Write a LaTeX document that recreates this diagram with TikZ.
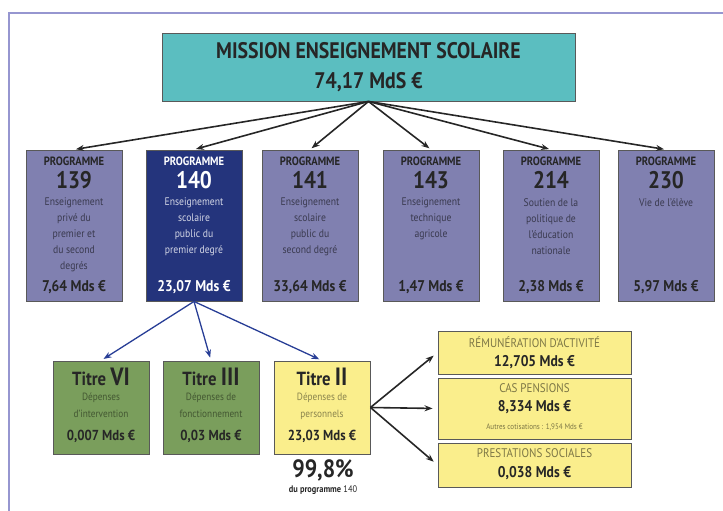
\documentclass[tikz,border=0pt]{standalone}
\usepackage{fontspec}
\setmainfont{PT Sans}[FakeStretch=0.88]
\usetikzlibrary{calc,arrows.meta}
\definecolor{cadre}{RGB}{150,150,208}
\definecolor{missionfond}{RGB}{91,190,192}
\definecolor{progfond}{RGB}{128,128,176}
\definecolor{progbleu}{RGB}{36,52,124}
\definecolor{titrevert}{RGB}{122,158,92}
\definecolor{titrejaune}{RGB}{250,238,140}
\definecolor{flechebleu}{RGB}{40,62,150}
\tikzset{
  boite/.style={draw=black!65, line width=0.9pt, inner sep=0pt},
  fleche/.style={-{Stealth[length=8pt,width=6pt]}, line width=1.6pt, black!85},
  flechebl/.style={fleche, flechebleu},
}

\begin{document}
\begin{tikzpicture}[x=1pt,y=-1pt]
\useasboundingbox (0,0) rectangle (723,511);
\draw[cadre,line width=2pt] (723,13) -- (9,13) -- (9,511);

% mission
\node[boite, fill=missionfond, minimum width=413pt, minimum height=68pt,
      align=center, font=\fontsize{22.5}{30}\selectfont\bfseries, text=black!85]
      (mission) at (368.5,67) {MISSION ENSEIGNEMENT SCOLAIRE\\74,17 MdS €};

% programmes
\foreach \n/\x/\fond/\tc/\dc/\desc/\mds in {
  139/74/progfond/black!85/black!55!progfond/{Enseignement\\privé du\\premier et\\du second\\degrés}/{7,64},
  140/194/progbleu/white/white!80!progbleu/{Enseignement\\scolaire\\public du\\premier degré}/{23,07},
  141/310/progfond/black!85/black!55!progfond/{Enseignement\\scolaire\\public du\\second degré}/{33,64},
  143/431/progfond/black!85/black!55!progfond/{Enseignement\\technique\\agricole}/{1,47},
  214/551/progfond/black!85/black!55!progfond/{Soutien de la\\politique de\\l'éducation\\nationale}/{2,38},
  230/666/progfond/black!85/black!55!progfond/{Vie de l'élève}/{5,97}}{
  \node[boite, fill=\fond, minimum width=96pt, minimum height=151pt] (p\n) at (\x,225.5) {};
  \node[text=\tc, font=\fontsize{12}{12}\selectfont\bfseries] (p\n-a) at (\x,161) {PROGRAMME};
  \node[text=\tc, font=\fontsize{24}{24}\selectfont\bfseries] (p\n-b) at (\x,180) {\n};
  \node[text=\dc, font=\fontsize{11}{16}\selectfont, align=center, anchor=north, inner sep=0pt]
       (p\n-c) at (\x,198) {\desc};
  \node[text=\tc, font=\fontsize{15.5}{15.5}\selectfont\bfseries] (p\n-d) at (\x,287) {\mds{} Mds €};
  \draw[fleche, shorten >=2pt] (mission.south) -- (p\n.north);
}

% titres
\foreach \t/\x/\fond/\num/\desc/\mds in {
  6/101/titrevert/VI/{Dépenses\\d'intervention}/{0,007},
  3/211/titrevert/III/{Dépenses de\\fonctionnement}/{0,03},
  2/322/titrejaune/II/{Dépenses de\\personnels}/{23,03}}{
  \node[boite, fill=\fond, minimum width=96pt, minimum height=93pt] (t\t) at (\x,407.5) {};
  \node[text=black!85, font=\bfseries] (t\t-a) at (\x,377)
       {\fontsize{19}{19}\selectfont Titre \fontsize{25}{25}\selectfont\num};
  \node[text=black!45!\fond, font=\fontsize{10.5}{17}\selectfont, align=center, anchor=north, inner sep=0pt]
       (t\t-b) at (\x,393) {\desc};
  \node[text=black!85, font=\fontsize{14.5}{14.5}\selectfont\bfseries] (t\t-c) at (\x,436) {\mds{} Mds €};
  \draw[flechebl, line width=1.3pt, shorten >=3pt] (p140.south) -- (t\t.north);
}
\node[text=black!85, font=\fontsize{25}{25}\selectfont\bfseries] (pct) at (323,470) {99,8\%};
\node[text=black!85, font=\fontsize{9.5}{9.5}\selectfont] (pct-b) at (323,490) {\textbf{du programme} 140};

% titre II en detail
\tikzset{detail/.style={boite, fill=titrejaune, minimum width=193pt}}
\node[detail, minimum height=43pt] (r1) at (534.5,352.5) {};
\node[detail, minimum height=61pt] (r2) at (534.5,408.5) {};
\node[detail, minimum height=44pt] (r3) at (534.5,465) {};
\node[text=black!50!titrejaune, font=\fontsize{12.5}{12.5}\selectfont] (r1-a) at (534.5,342) {RÉMUNÉRATION D'ACTIVITÉ};
\node[text=black!85, font=\fontsize{15.5}{15.5}\selectfont\bfseries] (r1-b) at (534.5,362) {12,705 Mds €};
\node[text=black!50!titrejaune, font=\fontsize{12.5}{12.5}\selectfont] (r2-a) at (534.5,388) {CAS PENSIONS};
\node[text=black!85, font=\fontsize{15.5}{15.5}\selectfont\bfseries] (r2-b) at (534.5,407) {8,334 Mds €};
\node[text=black!50!titrejaune, font=\fontsize{8}{8}\selectfont] (r2-c) at (534.5,427) {Autres cotisations : 1,954 Mds €};
\node[text=black!50!titrejaune, font=\fontsize{12.5}{12.5}\selectfont] (r3-a) at (534.5,453) {PRESTATIONS SOCIALES};
\node[text=black!85, font=\fontsize{15.5}{15.5}\selectfont\bfseries] (r3-b) at (534.5,473) {0,038 Mds €};
\foreach \r in {1,2,3}
  \draw[fleche, shorten >=5pt] (t2.east) -- (r\r.west);
\end{tikzpicture}
\end{document}
